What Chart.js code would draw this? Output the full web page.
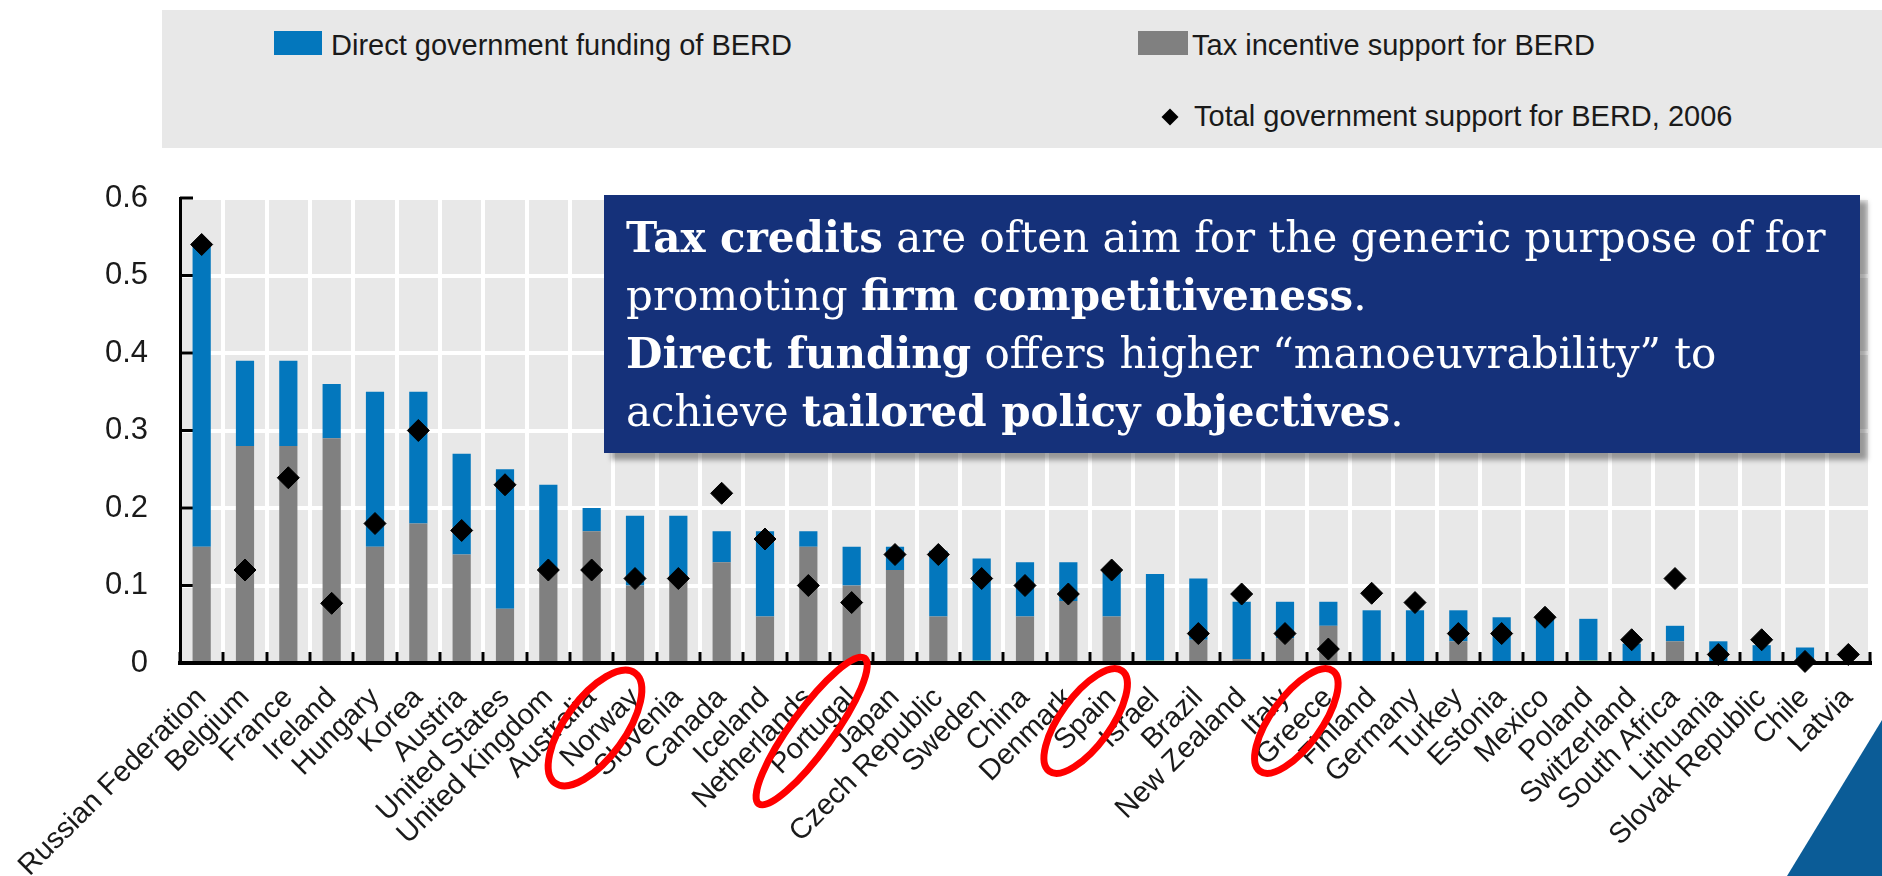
<!DOCTYPE html>
<html lang="en">
<head>
  <meta charset="UTF-8" />
  <title>Government support for BERD</title>
  <script src="https://cdn.jsdelivr.net/npm/chart.js"></script>
  <style>
    body {
      margin: 0;
      padding: 0;
      background: #fff;
      font-family: 'Liberation Sans', Arial, sans-serif;
      color: #1a1a1a;
    }

    #wrap {
      position: relative;
      width: 1882px;
      height: 876px;
      overflow: hidden;
    }

    #grafico {
      position: absolute;
      left: 0;
      top: 0;
    }

    #leyenda {
      position: absolute;
      left: 162px;
      top: 10px;
      width: 1720px;
      height: 138px;
      background: #e8e8e8;
    }

    .item {
      position: absolute;
      font-size: 29px;
      line-height: 34px;
      white-space: nowrap;
    }

    .swatch {
      position: absolute;
      width: 48px;
      height: 24px;
    }

    .rombo {
      position: absolute;
      width: 12px;
      height: 12px;
      background: #000;
      transform: rotate(45deg);
    }

    #nota {
      position: absolute;
      left: 604px;
      top: 195px;
      width: 1256px;
      height: 258px;
      background: #15317a;
      box-shadow: 7px 7px 5px rgba(0, 0, 0, 0.35);
      color: #fff;
      font-family: 'DejaVu Serif', 'Liberation Serif', serif;
      font-size: 42px;
      line-height: 58px;
      padding: 14px 0 0 22px;
      box-sizing: border-box;
      white-space: nowrap;
    }

    #esquina {
      position: absolute;
      left: 1787px;
      top: 720px;
      width: 95px;
      height: 156px;
      background: #0b5c97;
      clip-path: polygon(0 100%, 100% 0, 100% 100%);
    }
  </style>
</head>
<body>
  <div id="wrap">
    <canvas id="grafico" width="1882" height="876"></canvas>

    <div id="leyenda">
      <div class="swatch" style="left:112px; top:21px; background:#0377bd;"></div>
      <div class="item" id="lbl0" style="left:169px; top:18px;"></div>
      <div class="swatch" style="left:976px; top:21px; width:50px; background:#808080;"></div>
      <div class="item" id="lbl1" style="left:1030px; top:18px;"></div>
      <div class="rombo" style="left:1002px; top:101px;"></div>
      <div class="item" id="lbl2" style="left:1032px; top:89px;"></div>
    </div>

    <div id="nota">
      <b>Tax credits</b> are often aim for the generic purpose of for<br>
      promoting <b>firm competitiveness</b>.<br>
      <b>Direct funding</b> offers higher “manoeuvrability” to<br>
      achieve <b>tailored policy objectives</b>.
    </div>

    <div id="esquina"></div>
  </div>

  <script>
    const paises = [
      "Russian Federation", "Belgium", "France", "Ireland", "Hungary", "Korea", "Austria",
      "United States", "United Kingdom", "Australia", "Norway", "Slovenia", "Canada", "Iceland",
      "Netherlands", "Portugal", "Japan", "Czech Republic", "Sweden", "China", "Denmark", "Spain",
      "Israel", "Brazil", "New Zealand", "Italy", "Greece", "Finland", "Germany", "Turkey",
      "Estonia", "Mexico", "Poland", "Switzerland", "South Africa", "Lithuania",
      "Slovak Republic", "Chile", "Latvia"
    ];

    const etiquetas = [
      "Direct government funding of BERD",
      "Tax incentive support for BERD",
      "Total government support for BERD, 2006"
    ];

    // direct funding (blue part of each bar)
    const directa = [
      0.39, 0.11, 0.11, 0.07, 0.20, 0.17, 0.13, 0.18, 0.11, 0.03, 0.09, 0.08, 0.04,
      0.11, 0.02, 0.05, 0.03, 0.085, 0.132, 0.07, 0.05, 0.06, 0.112, 0.079, 0.074,
      0.047, 0.031, 0.068, 0.068, 0.04, 0.059, 0.057, 0.054, 0.025, 0.02, 0.028,
      0.023, 0.02, 0
    ];

    // tax incentives (grey part)
    const fiscal = [
      0.15, 0.28, 0.28, 0.29, 0.15, 0.18, 0.14, 0.07, 0.12, 0.17, 0.10, 0.11, 0.13,
      0.06, 0.15, 0.10, 0.12, 0.06, 0, 0.06, 0.08, 0.06, 0, 0.03, 0.005,
      0.032, 0.048, 0, 0, 0.028, 0, 0, 0, 0, 0.028, 0,
      0, 0, 0
    ];

    // thin green sliver under a few bars
    const otros = [
      0, 0, 0, 0, 0, 0, 0, 0, 0, 0, 0, 0, 0,
      0, 0, 0, 0, 0, 0.003, 0, 0, 0, 0.003, 0, 0,
      0, 0, 0, 0, 0, 0, 0, 0.003, 0, 0, 0,
      0, 0, 0
    ];

    // diamonds: total support in 2006
    const total2006 = [
      0.54, 0.12, 0.239, 0.077, 0.18, 0.30, 0.171, 0.23, 0.12, 0.12, 0.109, 0.109, 0.219,
      0.16, 0.10, 0.078, 0.14, 0.14, 0.109, 0.10, 0.089, 0.12, null, 0.038, 0.089,
      0.038, 0.018, 0.09, 0.078, 0.038, 0.038, 0.059, null, 0.03, 0.109, 0.011,
      0.03, 0.002, 0.011
    ];

    const ticksY = ["0", "0.1", "0.2", "0.3", "0.4", "0.5", "0.6"];

    // red circles drawn around some country names
    const marcados = [
      { pais: "Norway", dx: -40, dy: 65, rx: 68, ry: 30 },
      { pais: "Portugal", dx: -40, dy: 68, rx: 90, ry: 21 },
      { pais: "Spain", dx: -26, dy: 58, rx: 62, ry: 25 },
      { pais: "Greece", dx: -32, dy: 58, rx: 62, ry: 25 }
    ];

    document.getElementById("lbl0").textContent = etiquetas[0];
    document.getElementById("lbl1").textContent = etiquetas[1];
    document.getElementById("lbl2").textContent = etiquetas[2];

    const fuente = "'Liberation Sans', Arial, sans-serif";

    const fondoPlot = {
      id: "fondoPlot",
      beforeDraw(chart) {
        const { ctx, chartArea: a } = chart;
        ctx.save();
        ctx.fillStyle = "#e8e8e8";
        ctx.fillRect(a.left, a.top, a.right - a.left, a.bottom - a.top);
        ctx.restore();
      }
    };

    // short black ticks pointing into the plot
    const marcasEjes = {
      id: "marcasEjes",
      beforeDatasetsDraw(chart) {
        const { ctx, chartArea: a, scales } = chart;
        const n = paises.length;
        const paso = (a.right - a.left) / n;
        ctx.save();
        ctx.strokeStyle = "#000";
        ctx.lineWidth = 3;
        ctx.beginPath();
        for (let i = 0; i <= n; i++) {
          const x = Math.round(a.left + i * paso);
          ctx.moveTo(x, a.bottom);
          ctx.lineTo(x, a.bottom - 11);
        }
        scales.y.ticks.forEach(t => {
          const y = scales.y.getPixelForValue(t.value);
          ctx.moveTo(a.left, y);
          ctx.lineTo(a.left + 13, y);
        });
        ctx.stroke();
        ctx.restore();
      }
    };

    const circulos = {
      id: "circulos",
      afterDraw(chart) {
        const { ctx, scales } = chart;
        ctx.save();
        ctx.strokeStyle = "#ff0000";
        ctx.lineWidth = 7;
        marcados.forEach(m => {
          const x = scales.x.getPixelForValue(paises.indexOf(m.pais));
          const y = scales.x.top;
          ctx.beginPath();
          ctx.ellipse(x + m.dx, y + m.dy, m.rx, m.ry, -54 * Math.PI / 180, 0, Math.PI * 2);
          ctx.stroke();
        });
        ctx.restore();
      }
    };

    const ctx = document.getElementById("grafico").getContext("2d");
    new Chart(ctx, {
      data: {
        labels: paises,
        datasets: [
          {
            type: "bar",
            label: "other",
            data: otros,
            backgroundColor: "#8dc63f",
            barPercentage: 0.42,
            categoryPercentage: 1,
            order: 1
          },
          {
            type: "bar",
            label: etiquetas[1],
            data: fiscal,
            backgroundColor: "#808080",
            barPercentage: 0.42,
            categoryPercentage: 1,
            order: 1
          },
          {
            type: "bar",
            label: etiquetas[0],
            data: directa,
            backgroundColor: "#0377bd",
            barPercentage: 0.42,
            categoryPercentage: 1,
            order: 1
          },
          {
            type: "line",
            label: etiquetas[2],
            data: total2006,
            stack: "total",
            showLine: false,
            pointStyle: "rectRot",
            pointRadius: 11,
            pointBackgroundColor: "#000",
            pointBorderColor: "#000",
            pointBorderWidth: 1,
            clip: false,
            order: 0
          }
        ]
      },
      options: {
        responsive: false,
        animation: false,
        events: [],
        layout: { padding: { top: 198, right: 4, left: 0, bottom: 0 } },
        plugins: {
          legend: { display: false },
          tooltip: { enabled: false }
        },
        scales: {
          x: {
            stacked: true,
            grid: { color: "#fff", lineWidth: 4, drawTicks: false, offset: true },
            border: { color: "#000", width: 4 },
            ticks: {
              autoSkip: false,
              minRotation: 45,
              maxRotation: 45,
              padding: 18,
              color: "#1a1a1a",
              font: { family: fuente, size: 29 }
            },
            afterFit(s) {
              s.height = 213;
              s.paddingLeft = 0;
              s.paddingRight = 0;
            }
          },
          y: {
            stacked: true,
            min: 0,
            max: 0.6,
            grid: { color: "#fff", lineWidth: 4, drawTicks: false },
            border: { color: "#000", width: 3 },
            ticks: {
              stepSize: 0.1,
              padding: 32,
              color: "#1a1a1a",
              font: { family: fuente, size: 31 },
              callback: (v, i) => ticksY[i]
            },
            afterFit(s) {
              s.width = 180;
              s.paddingTop = 0;
              s.paddingBottom = 0;
            }
          }
        }
      },
      plugins: [fondoPlot, marcasEjes, circulos]
    });
  </script>
</body>
</html>
